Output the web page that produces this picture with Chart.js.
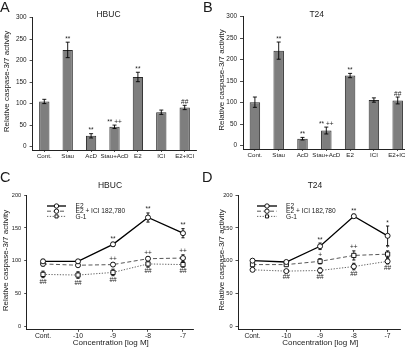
<!DOCTYPE html>
<html>
<head>
<meta charset="utf-8">
<script src="https://cdn.jsdelivr.net/npm/chart.js@4.4.1/dist/chart.umd.min.js"></script>
<style>
  html, body { margin: 0; padding: 0; background: #fff; overflow: hidden; }
  body { width: 405px; height: 347px; position: relative; }
  canvas { position: absolute; }
</style>
</head>
<body>
<canvas id="chartA" width="202" height="172" style="left:0;top:0"></canvas>
<canvas id="chartB" width="210" height="172" style="left:202px;top:0"></canvas>
<canvas id="chartC" width="202" height="175" style="left:0;top:172px"></canvas>
<canvas id="chartD" width="203" height="175" style="left:202px;top:172px"></canvas>
<script>
(function () {
  "use strict";

  // Bar panels (A, B)
  const treatments   = ['Cont.', 'Stau', 'AcD', 'Stau+AcD', 'E2', 'ICI', 'E2+ICI'];
  const hbucBar      = [105, 225, 25, 46, 162, 80, 91];
  const hbucBarErr   = [5, 18, 5, 4, 11, 5, 5];
  const hbucBarMarks = ['', '**', '**', '** ++', '**', '', '##'];
  const t24Bar       = [101, 221, 16, 35, 163, 106, 105];
  const t24BarErr    = [12, 20, 3, 8, 5, 5, 8];
  const t24BarMarks  = ['', '**', '**', '** ++', '**', '', '##'];
  const barTicks     = [0, 50, 100, 150, 200, 250, 300];

  // Dose-response panels (C, D)
  const concentrations = ['Cont.', '-10', '-9', '-8', '-7'];
  const seriesNames    = ['E2', 'E2 + ICI 182,780', 'G-1'];
  const hbucE2       = [99, 99, 125, 166, 142];
  const hbucE2Err    = [3, 2, 3, 7, 7];
  const hbucE2Marks  = ['', '', '**', '**', '**'];
  const hbucIci      = [95, 93, 94, 103, 104];
  const hbucIciErr   = [3, 2, 3, 3, 5];
  const hbucIciMarks = ['', '', '++', '++', '++'];
  const hbucG1       = [79, 78, 82, 95, 94];
  const hbucG1Err    = [5, 5, 5, 5, 4];
  const hbucG1Marks  = ['##', '##', '##', '##', '##'];
  const t24E2        = [100, 98, 122, 168, 138];
  const t24E2Err     = [2, 2, 5, 3, 15];
  const t24E2Marks   = ['', '', '**', '**', '*'];
  const t24Ici       = [94, 94, 99, 108, 110];
  const t24IciErr    = [2, 2, 4, 7, 5];
  const t24IciMarks  = ['', '', '+', '++', '+'];
  const t24G1        = [86, 84, 85, 91, 99];
  const t24G1Err     = [2, 2, 4, 5, 4];
  const t24G1Marks   = ['', '##', '##', '##', '##'];
  const lineTicks    = [0, 50, 100, 150, 200];

  const yTitle = 'Relative caspase-3/7 activity';
  const xTitle = 'Concentration [log M]';
  const FONT = '"Liberation Sans", Arial, Helvetica, sans-serif';
  const ink = '#1a1a1a';

  Chart.defaults.font.family = FONT;
  Chart.defaults.color = ink;

  function valueOf(ds, i) {
    const d = ds.data[i];
    return (d !== null && typeof d === 'object') ? d.y : d;
  }

  // error bars + significance marks
  function drawErrors(chart) {
    const ctx = chart.ctx;
    const ys = chart.scales.y;
    chart.data.datasets.forEach((ds, di) => {
      if (!ds.errors) return;
      const meta = chart.getDatasetMeta(di);
      ctx.save();
      ctx.strokeStyle = '#000';
      ctx.lineWidth = 0.9;
      meta.data.forEach((el, i) => {
        const v = valueOf(ds, i), e = ds.errors[i];
        if (!e) return;
        const t = ys.getPixelForValue(v + e), b = ys.getPixelForValue(v - e);
        const c = ds.capWidth;
        ctx.beginPath();
        ctx.moveTo(el.x, t); ctx.lineTo(el.x, b);
        ctx.moveTo(el.x - c, t); ctx.lineTo(el.x + c, t);
        ctx.moveTo(el.x - c, b); ctx.lineTo(el.x + c, b);
        ctx.stroke();
      });
      ctx.restore();
    });
  }

  const errorBars = {
    id: 'errorBars',
    beforeDatasetsDraw(chart, args, opts) { if (opts.under) drawErrors(chart); },
    afterDatasetsDraw(chart, args, opts) {
      if (!opts.under) drawErrors(chart);
      const ctx = chart.ctx;
      const ys = chart.scales.y;
      ctx.save();
      ctx.fillStyle = '#222';
      ctx.font = '6.5px ' + FONT;
      ctx.textAlign = 'center';
      ctx.textBaseline = 'alphabetic';
      chart.data.datasets.forEach((ds, di) => {
        if (!ds.marks) return;
        const meta = chart.getDatasetMeta(di);
        meta.data.forEach((el, i) => {
          const m = ds.marks[i];
          if (!m) return;
          const v = valueOf(ds, i), e = ds.errors ? ds.errors[i] : 0;
          if (ds.marksBelow) {
            ctx.fillText(m, el.x, ys.getPixelForValue(v - e) + 6.2);
          } else {
            ctx.fillText(m, el.x, ys.getPixelForValue(v + e) - 1.5);
          }
        });
      });
      ctx.restore();
    }
  };

  // panel letter, title, axis titles, legend
  const panelText = {
    id: 'panelText',
    afterDraw(chart, args, o) {
      const ctx = chart.ctx;
      ctx.save();
      ctx.fillStyle = ink;
      ctx.textBaseline = 'alphabetic';
      ctx.textAlign = 'left';
      ctx.font = '14.5px ' + FONT;
      ctx.fillText(o.letter, o.letterX, o.letterY);
      ctx.textAlign = 'center';
      ctx.font = '8.5px ' + FONT;
      ctx.fillText(o.title, o.titleX, o.titleY);
      if (o.xTitle) {
        ctx.font = '8px ' + FONT;
        ctx.textBaseline = 'middle';
        ctx.fillText(o.xTitle, o.xTitleX, o.xTitleY);
      }
      ctx.save();
      ctx.translate(o.yTitleX, o.yTitleY);
      ctx.rotate(-Math.PI / 2);
      ctx.font = '8px ' + FONT;
      ctx.textBaseline = 'middle';
      ctx.fillText(yTitle, 0, 0);
      ctx.restore();

      if (o.legend) {
        const L = o.legend;
        chart.data.datasets.forEach((ds, i) => {
          const y = L.y + i * L.step;
          ctx.save();
          ctx.strokeStyle = ds.borderColor;
          ctx.lineWidth = ds.borderWidth;
          ctx.setLineDash(ds.borderDash || []);
          ctx.beginPath();
          ctx.moveTo(L.x0, y); ctx.lineTo(L.x1, y);
          ctx.stroke();
          ctx.restore();
          ctx.save();
          ctx.fillStyle = '#fff';
          ctx.strokeStyle = '#000';
          ctx.lineWidth = 0.9;
          Chart.helpers.drawPoint(ctx, { pointStyle: L.styles[i], radius: 2.2, borderWidth: 0.9, rotation: 0 }, (L.x0 + L.x1) / 2, y);
          ctx.restore();
          ctx.save();
          ctx.fillStyle = ink;
          ctx.font = '6.6px ' + FONT;
          ctx.textAlign = 'left';
          ctx.textBaseline = 'middle';
          ctx.fillText(ds.label, L.tx, y + 0.3);
          ctx.restore();
        });
      }
      ctx.restore();
    }
  };

  function fixWidth(w) { return function (scale) { scale.width = w; }; }
  function fixHeight(h) { return function (scale) { scale.height = h; }; }
  function setTicks(list) { return function (scale) { scale.ticks = list.map(v => ({ value: v })); }; }

  function axisStyle(tickLen) {
    return {
      display: true,
      drawOnChartArea: false,
      drawTicks: true,
      tickLength: tickLen,
      color: '#222',
      lineWidth: 0.8
    };
  }

  // ---------- bar panels ----------
  function barChart(id, values, errors, marks, layout, text) {
    const yMin = -8;
    return new Chart(document.getElementById(id), {
      type: 'bar',
      data: {
        labels: treatments,
        datasets: [{
          data: values,
          errors: errors,
          marks: marks,
          capWidth: 2,
          base: yMin,
          backgroundColor: '#7e7e7e',
          borderColor: '#2b2b2b',
          borderWidth: 1,
          barPercentage: 0.44,
          categoryPercentage: 1
        }]
      },
      options: {
        responsive: false,
        animation: false,
        devicePixelRatio: 1,
        layout: { padding: layout.padding },
        plugins: {
          legend: { display: false },
          tooltip: { enabled: false },
          errorBars: { under: false },
          panelText: text
        },
        scales: {
          x: {
            offset: true,
            grid: Object.assign(axisStyle(2), { offset: false }),
            border: { display: true, color: '#222', width: 1 },
            ticks: { font: { size: 6.2 }, padding: 1, maxRotation: 0, autoSkip: false },
            afterFit: fixHeight(layout.xH)
          },
          y: {
            min: yMin,
            max: 300,
            grid: axisStyle(3),
            border: { display: true, color: '#222', width: 1 },
            ticks: { font: { size: 6.4 }, padding: 3 },
            afterBuildTicks: setTicks(barTicks),
            afterFit: fixWidth(layout.yW)
          }
        }
      },
      plugins: [errorBars, panelText]
    });
  }

  barChart('chartA', hbucBar, hbucBarErr, hbucBarMarks,
    { padding: { left: 0, top: 17.7, right: 5.6, bottom: 0 }, xH: 22, yW: 32.6 },
    { letter: 'A', letterX: 0, letterY: 11.5, title: 'HBUC', titleX: 108.5, titleY: 17,
      yTitleX: 7, yTitleY: 81.5 });

  barChart('chartB', t24Bar, t24BarErr, t24BarMarks,
    { padding: { left: 0, top: 16.7, right: 2.4, bottom: 0 }, xH: 23, yW: 41 },
    { letter: 'B', letterX: 1, letterY: 11.5, title: 'T24', titleX: 114.7, titleY: 16.5,
      yTitleX: 19.5, yTitleY: 80 });

  // ---------- dose-response panels ----------
  function toPoints(arr) { return arr.map((v, i) => ({ x: i, y: v })); }

  function lineSet(label, values, errors, marks, below, style) {
    return Object.assign({
      label: label,
      data: toPoints(values),
      errors: errors,
      marks: marks,
      marksBelow: below,
      capWidth: 1.6,
      tension: 0,
      fill: false,
      pointRadius: 2.5,
      pointBackgroundColor: '#fff',
      pointBorderColor: '#000',
      pointBorderWidth: 0.9
    }, style);
  }

  const solid  = { borderColor: '#000', borderWidth: 1.3, borderDash: [] };
  const dashed = { borderColor: '#444', borderWidth: 0.9, borderDash: [4, 2.5] };
  const dotted = { borderColor: '#555', borderWidth: 0.9, borderDash: [1.3, 1.5] };

  function lineChart(id, sets, layout, text) {
    return new Chart(document.getElementById(id), {
      type: 'line',
      data: { datasets: sets },
      options: {
        responsive: false,
        animation: false,
        devicePixelRatio: 1,
        layout: { padding: layout.padding },
        plugins: {
          legend: { display: false },
          tooltip: { enabled: false },
          errorBars: { under: true },
          panelText: text
        },
        scales: {
          x: {
            type: 'linear',
            min: layout.xMin,
            max: layout.xMax,
            grid: axisStyle(2.5),
            border: { display: true, color: '#222', width: 1 },
            ticks: {
              font: { size: 6.8 }, padding: 0, maxRotation: 0, autoSkip: false,
              callback: (v) => concentrations[v]
            },
            afterBuildTicks: setTicks(concentrations.map((c, i) => i)),
            afterFit: fixHeight(layout.xH)
          },
          y: {
            min: -5,
            max: 200,
            grid: axisStyle(2.5),
            border: { display: true, color: '#222', width: 1 },
            ticks: { font: { size: 5.6 }, padding: 3 },
            afterBuildTicks: setTicks(lineTicks),
            afterFit: fixWidth(layout.yW)
          }
        }
      },
      plugins: [errorBars, panelText]
    });
  }

  lineChart('chartC', [
      lineSet(seriesNames[0], hbucE2, hbucE2Err, hbucE2Marks, false, Object.assign({ pointStyle: 'circle' }, solid)),
      lineSet(seriesNames[1], hbucIci, hbucIciErr, hbucIciMarks, false, Object.assign({ pointStyle: 'circle' }, dashed)),
      lineSet(seriesNames[2], hbucG1, hbucG1Err, hbucG1Marks, true, Object.assign({ pointStyle: 'rect', pointRadius: 3 }, dotted))
    ],
    { padding: { left: 0, top: 23.3, right: 9, bottom: 0 }, xH: 17.7, yW: 26.7, xMin: -0.466, xMax: 4.286 },
    { letter: 'C', letterX: 0, letterY: 9.5, title: 'HBUC', titleX: 110, titleY: 16,
      yTitleX: 5.5, yTitleY: 88.5, xTitle: xTitle, xTitleX: 110.8, xTitleY: 170.3,
      legend: { x0: 47, x1: 66, tx: 75.5, y: 34, step: 5.2, styles: ['circle', 'circle', 'rect'] } });

  lineChart('chartD', [
      lineSet(seriesNames[0], t24E2, t24E2Err, t24E2Marks, false, Object.assign({ pointStyle: 'circle' }, solid)),
      lineSet(seriesNames[1], t24Ici, t24IciErr, t24IciMarks, false, Object.assign({ pointStyle: 'rect', pointRadius: 3 }, dashed)),
      lineSet(seriesNames[2], t24G1, t24G1Err, t24G1Marks, true, Object.assign({ pointStyle: 'circle' }, dotted))
    ],
    { padding: { left: 0, top: 23.3, right: 0, bottom: 0 }, xH: 17.7, yW: 36, xMin: -0.43, xMax: 4.37 },
    { letter: 'D', letterX: 0, letterY: 9.5, title: 'T24', titleX: 113, titleY: 15.5,
      yTitleX: 19.5, yTitleY: 88, xTitle: xTitle, xTitleX: 118.3, xTitleY: 170.3,
      legend: { x0: 55, x1: 75, tx: 84, y: 34, step: 5.2, styles: ['circle', 'circle', 'rect'] } });

})();
</script>
</body>
</html>
